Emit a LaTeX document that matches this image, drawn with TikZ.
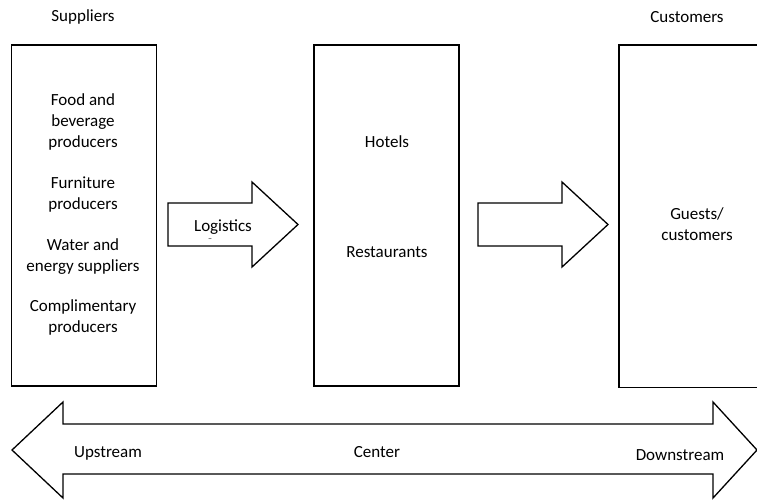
\documentclass[tikz,border=0pt]{standalone}
\usepackage{fontspec}
\setmainfont{Carlito}

\begin{document}
\begin{tikzpicture}[x=1pt, y=-1pt,
		block/.style={draw, line width=1.6pt, minimum width=145pt, minimum height=341pt, inner sep=0pt},
		lbl/.style={font=\fontsize{17}{20.6}\selectfont, align=center, inner sep=0pt},
		blockarrow/.style={draw, line width=1.3pt, line join=miter, fill=white}]
				% Frame:
				\useasboundingbox (0, 0) rectangle (757, 499);
				\clip (0, 0) rectangle (757, 499);
				% Boxes:
				\node[block](sup) at (84, 215.5){};
				\node[block](hot) at (386.5, 215.5){};
				\node[block, draw=none, anchor=north west, minimum width=138pt](cus) at (619, 45){};
				\draw[line width=1.6pt] (cus.north east) -- (cus.north west) -- (cus.south west) -- (cus.south east);
				\node[lbl](suptitle) at (83, 17){Suppliers};
				\node[lbl](custitle) at (687, 17){Customers};
				% Texts in the boxes:
				\node[lbl](food) at (83, 122){Food and\\beverage\\producers};
				\node[lbl](furn) at (83, 194.5){Furniture\\producers};
				\node[lbl](water) at (83, 256.5){Water and\\energy suppliers};
				\node[lbl](compl) at (83, 317.5){Complimentary\\producers};
				\node[lbl](hotels) at (387, 142){Hotels};
				\node[lbl](rest) at (387, 252){Restaurants};
				\node[lbl](guests) at (697, 224){Guests/\\customers};
				% Block arrows:
				\draw[blockarrow] (168, 203) -- (252, 203) -- (252, 182) -- (298, 224.5) -- (252, 267) -- (252, 246) -- (168, 246) -- cycle;
				\draw[blockarrow] (478, 203) -- (562, 203) -- (562, 182) -- (608, 224.5) -- (562, 267) -- (562, 246) -- (478, 246) -- cycle;
				\node[lbl](logi) at (223, 227){Logistics};
				\node[lbl, font=\fontsize{8}{8}\selectfont](dash) at (210, 240){\textendash};
				\draw[blockarrow] (12, 450) -- (63, 402) -- (63, 424) -- (713, 424) -- (713, 402) -- (757, 450) -- (713, 498) -- (713, 474) -- (63, 474) -- (63, 498) -- cycle;
				\node[lbl](up) at (108, 453){Upstream};
				\node[lbl](center) at (377, 452){Center};
				\node[lbl](down) at (680, 455){Downstream};
			\end{tikzpicture}
\end{document}
